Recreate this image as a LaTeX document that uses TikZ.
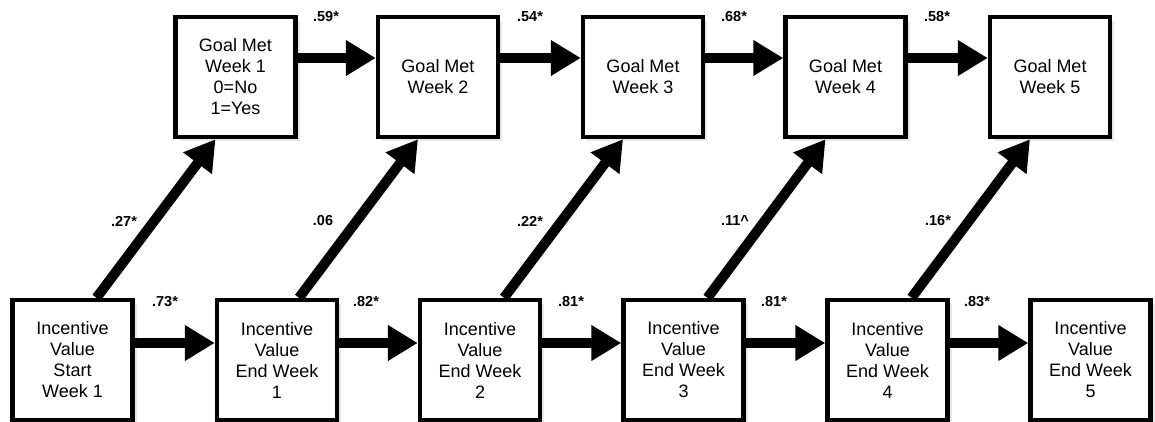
\documentclass[tikz,border=0pt]{standalone}
\usepackage{fontspec}
\setmainfont{Liberation Sans}
\usetikzlibrary{arrows.meta,shadows}
\begin{document}
\begin{tikzpicture}[x=1pt,y=-1pt,
  box/.style={draw=black, line width=4.5pt, fill=white, minimum width=120pt, minimum height=120pt,
    inner sep=0pt, align=center, font=\fontsize{18}{21}\selectfont,
    drop shadow={shadow xshift=4pt, shadow yshift=-4pt, opacity=0.18}},
  arr/.style={line width=10pt, -{Triangle[length=30pt,width=34pt]}},
  lab/.style={font=\fontsize{14.5}{16}\selectfont\bfseries, inner sep=0pt}]
\useasboundingbox (0,0) rectangle (1155,422);
% top row
\node[box] (W1) at (235.5,77) {Goal Met\\Week 1\\0=No\\1=Yes};
\node[box] (W2) at (438,77) {Goal Met\\Week 2};
\node[box] (W3) at (643,77) {Goal Met\\Week 3};
\node[box] (W4) at (845.5,77) {Goal Met\\Week 4};
\node[box] (W5) at (1050,77) {Goal Met\\Week 5};
% bottom row
\node[box] (B0) at (72.5,360) {Incentive\\Value\\Start\\Week 1};
\node[box] (B1) at (277,360) {Incentive\\Value\\End Week\\1};
\node[box] (B2) at (480,360) {Incentive\\Value\\End Week\\2};
\node[box] (B3) at (683.5,360) {Incentive\\Value\\End Week\\3};
\node[box] (B4) at (887.5,360) {Incentive\\Value\\End Week\\4};
\node[box] (B5) at (1090.5,360) {Incentive\\Value\\End Week\\5};
% top horizontal arrows
\draw[arr] ([yshift=19pt]W1.east) -- ([yshift=19pt]W2.west);
\draw[arr] ([yshift=19pt]W2.east) -- ([yshift=19pt]W3.west);
\draw[arr] ([yshift=19pt]W3.east) -- ([yshift=19pt]W4.west);
\draw[arr] ([yshift=19pt]W4.east) -- ([yshift=19pt]W5.west);
% bottom horizontal arrows
\draw[arr] ([yshift=17pt]B0.east) -- ([yshift=17pt]B1.west);
\draw[arr] ([yshift=17pt]B1.east) -- ([yshift=17pt]B2.west);
\draw[arr] ([yshift=17pt]B2.east) -- ([yshift=17pt]B3.west);
\draw[arr] ([yshift=17pt]B3.east) -- ([yshift=17pt]B4.west);
\draw[arr] ([yshift=17pt]B4.east) -- ([yshift=17pt]B5.west);
% diagonal arrows
\draw[arr] ([xshift=24pt]B0.north) -- ([xshift=-20pt]W1.south);
\draw[arr] ([xshift=22pt]B1.north) -- ([xshift=-20pt]W2.south);
\draw[arr] ([xshift=24pt]B2.north) -- ([xshift=-20pt]W3.south);
\draw[arr] ([xshift=24pt]B3.north) -- ([xshift=-20pt]W4.south);
\draw[arr] ([xshift=24pt]B4.north) -- ([xshift=-20pt]W5.south);
% labels
\node[lab] (t1) at (326,17) {.59*};
\node[lab] (t2) at (530,17) {.54*};
\node[lab] (t3) at (734,17) {.68*};
\node[lab] (t4) at (937,17) {.58*};
\node[lab] (d1) at (124,221) {.27*};
\node[lab] (d2) at (323,221) {.06};
\node[lab] (d3) at (530,221) {.22*};
\node[lab] (d4) at (735,221) {.11\textasciicircum};
\node[lab] (d5) at (938,221) {.16*};
\node[lab] (h1) at (165,302) {.73*};
\node[lab] (h2) at (366,302) {.82*};
\node[lab] (h3) at (571,302) {.81*};
\node[lab] (h4) at (774,302) {.81*};
\node[lab] (h5) at (977,302) {.83*};
\end{tikzpicture}
\end{document}
